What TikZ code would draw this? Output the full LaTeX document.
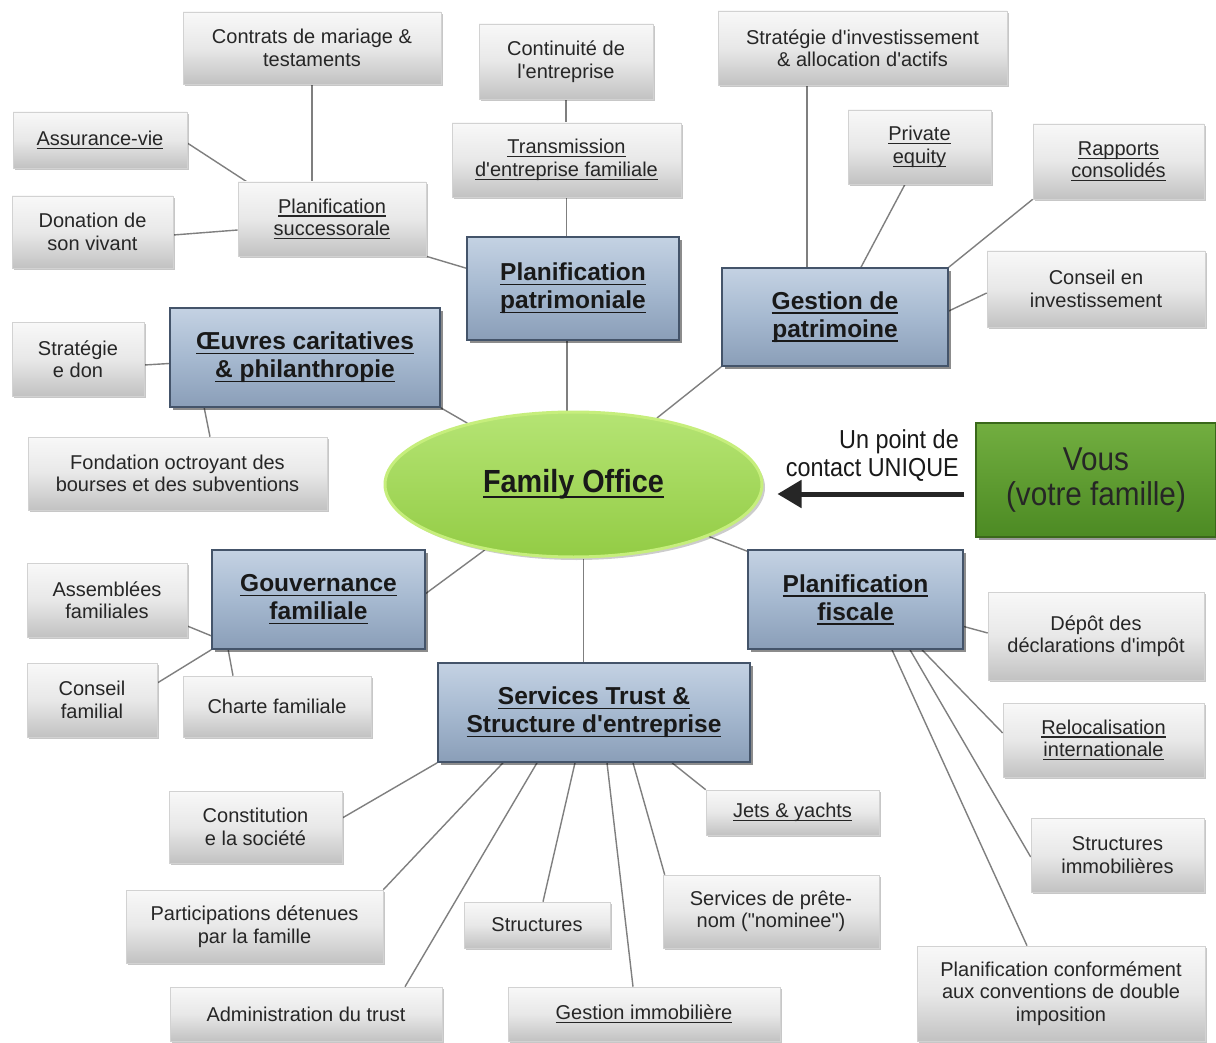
\documentclass[tikz,border=0pt]{standalone}
\usepackage{fontspec}
\setmainfont{Liberation Sans}
\newfontfamily\narrowsans[FakeStretch=0.9]{Liberation Sans}
\newcommand{\ulx}[1]{\leavevmode\setbox0\hbox{#1}\rlap{\vrule height -0.11em depth 0.175em width \wd0}\box0}
\newcommand{\aq}{\textquotesingle}
\usetikzlibrary{shapes.geometric,shadows,arrows.meta}
\pgfdeclarelayer{background}
\pgfsetlayers{background,main}
\definecolor{leaftop}{HTML}{F8F8F8}
\definecolor{leafmid}{HTML}{E8E8E8}
\definecolor{leafbot}{HTML}{C2C2C2}
\definecolor{leafborder}{HTML}{D2D2D2}
\definecolor{leaftext}{HTML}{262626}
\definecolor{maintop}{HTML}{C4D2E3}
\definecolor{mainmid}{HTML}{A6B9D0}
\definecolor{mainbot}{HTML}{8A9EB8}
\definecolor{mainborder}{HTML}{44546A}
\definecolor{linecol}{HTML}{7F7F7F}
\definecolor{fotop}{HTML}{B5E474}
\definecolor{fobot}{HTML}{93CC45}
\definecolor{foborder}{HTML}{C6EE7C}
\definecolor{voustop}{HTML}{72AE40}
\definecolor{vousbot}{HTML}{4C8A23}
\definecolor{vousborder}{HTML}{3A681A}
\newcommand{\lfnt}{\fontsize{20}{22.5}\selectfont}
\newcommand{\mfnt}{\fontsize{24.5}{28}\selectfont\bfseries}
\newcommand{\fofnt}{\narrowsans\fontsize{32}{34}\selectfont\bfseries}
\newcommand{\contactfnt}{\narrowsans\fontsize{26}{28}\selectfont}
\newcommand{\vousfnt}{\narrowsans\fontsize{33}{35}\selectfont}
\tikzset{
  leaf/.style={rectangle, draw=leafborder, line width=0.6pt,
    top color=leaftop, bottom color=leafbot, middle color=leafmid,
    drop shadow={shadow xshift=2pt, shadow yshift=-2pt, opacity=0.22, fill=black},
    font=\lfnt, text=leaftext, align=center, inner sep=0pt},
  mainbox/.style={rectangle, draw=mainborder, line width=1.6pt,
    top color=maintop, bottom color=mainbot, middle color=mainmid,
    drop shadow={shadow xshift=3pt, shadow yshift=-3pt, opacity=0.45, fill=black},
    font=\mfnt, text=black!90, align=center, inner sep=0pt},
  conn/.style={draw=linecol, line width=1.4pt},
  sz/.style n args={2}{minimum width=#1pt, minimum height=#2pt}
}
\begin{document}
\begin{tikzpicture}[x=1pt,y=-1pt]
\useasboundingbox (0,0) rectangle (1216,1043);

% ---------- centre ----------
\node[ellipse, draw=foborder, line width=3pt, top color=fotop, bottom color=fobot,
  drop shadow={shadow xshift=3pt, shadow yshift=-3pt, opacity=0.2, fill=black},
  minimum width=377pt, minimum height=145pt, inner sep=0pt, font=\fofnt, text=black!90]
  (fo) at (573.5,484.5) {\ulx{Family Office}};
\node[rectangle, draw=vousborder, line width=1.2pt, top color=voustop, bottom color=vousbot,
  drop shadow={shadow xshift=3pt, shadow yshift=-3pt, opacity=0.4, fill=black},
  minimum width=240pt, minimum height=114pt, inner sep=0pt, font=\vousfnt,
  text=black!85, align=center] (vous) at (1096,480) {Vous\\(votre famille)};
\node[anchor=east, align=right, font=\contactfnt, text=black!90, inner sep=0pt]
  (contact) at (959,456) {Un point de\\contact UNIQUE};
\coordinate (arrowy) at (0,494);
\draw[line width=5pt, draw=black!85, -{Triangle[length=24pt,width=27pt]},
  shorten <=11pt, shorten >=14pt] (vous.west |- arrowy) -- (fo.east |- arrowy);

% ---------- main boxes ----------
\node[mainbox, sz={212}{103}] (patrim) at (573,288.5) {\ulx{Planification}\\\ulx{patrimoniale}};
\node[mainbox, sz={226}{98}] (gestion) at (835,317) {\ulx{Gestion de}\\\ulx{patrimoine}};
\node[mainbox, sz={270}{99}] (oeuvres) at (305,357.5) {\ulx{Œuvres caritatives}\\\ulx{\& philanthropie}};
\node[mainbox, sz={213}{99}] (gouv) at (318.5,599.5) {\ulx{Gouvernance}\\\ulx{familiale}};
\node[mainbox, sz={215}{99}] (fiscale) at (855.5,599.5) {\ulx{Planification}\\\ulx{fiscale}};
\node[mainbox, sz={312}{99}] (trust) at (594,712.5) {\ulx{Services Trust \&}\\\ulx{Structure d\aq entreprise}};

% ---------- leaves ----------
\node[leaf, sz={258}{72}] (contrats) at (312,48) {Contrats de mariage \&\\testaments};
\node[leaf, sz={174}{56}] (assur) at (100,140) {\ulx{Assurance-vie}};
\node[leaf, sz={161}{72}] (donation) at (92.5,232) {Donation de\\son vivant};
\node[leaf, sz={188}{74}] (succ) at (332,219) {\ulx{Planification}\\\ulx{successorale}};
\node[leaf, sz={174}{75}] (contin) at (566,61.5) {Continuité de\\l\aq entreprise};
\node[leaf, sz={229}{74}] (transm) at (566.5,160) {\ulx{Transmission}\\\ulx{d\aq entreprise familiale}};
\node[leaf, sz={289}{74}] (strat) at (862.5,48) {Stratégie d\aq investissement\\\& allocation d\aq actifs};
\node[leaf, sz={143}{74}] (private) at (919.5,147) {\ulx{Private}\\\ulx{equity}};
\node[leaf, sz={171}{75}] (rapports) at (1118.5,161.5) {\ulx{Rapports}\\\ulx{consolidés}};
\node[leaf, sz={218}{76}] (conseilinv) at (1096,289) {Conseil en\\investissement};
\node[leaf, sz={132}{74}] (stratdon) at (78,359) {Stratégie\\e don};
\node[leaf, sz={299}{73}] (fondation) at (177.5,473.5) {Fondation octroyant des\\bourses et des subventions};
\node[leaf, sz={160}{74}] (assemb) at (107,600) {Assemblées\\familiales};
\node[leaf, sz={130}{74}] (conseilfam) at (92,700) {Conseil\\familial};
\node[leaf, sz={188}{61}] (charte) at (277,706.5) {Charte familiale};
\node[leaf, sz={173}{72}] (constit) at (255.5,827) {Constitution\\e la société};
\node[leaf, sz={257}{73}] (particip) at (254.5,926.5) {Participations détenues\\par la famille};
\node[leaf, sz={272}{54}] (admin) at (306,1014) {Administration du trust};
\node[leaf, sz={173}{45}] (jets) at (792.5,812.5) {\ulx{Jets \& yachts}};
\node[leaf, sz={146}{46}] (structures) at (537,925) {Structures};
\node[leaf, sz={216}{73}] (pretenom) at (771,911.5) {Services de prête-\\nom (\textquotedbl nominee\textquotedbl)};
\node[leaf, sz={272}{54}] (gestimmo) at (644,1014) {\ulx{Gestion immobilière}};
\node[leaf, sz={216}{88}] (depot) at (1096,636) {Dépôt des\\déclarations d\aq impôt};
\node[leaf, sz={201}{74}] (reloc) at (1103.5,740) {\ulx{Relocalisation}\\\ulx{internationale}};
\node[leaf, sz={173}{74}] (structimmo) at (1117.5,855) {Structures\\immobilières};
\node[leaf, sz={288}{95}] (conforme) at (1061,993.5) {Planification conformément\\aux conventions de double\\imposition};

% ---------- background and connectors ----------
\begin{pgfonlayer}{background}
\fill[white] (0,0) rectangle (1216,1043);
\draw[conn] (contrats.south) -- (contrats.south |- succ.north);
\draw[conn] ([yshift=-3pt]assur.east) -- ([xshift=9pt]succ.north west);
\draw[conn] ([yshift=-3pt]donation.east) -- ([yshift=-11pt]succ.west);
\draw[conn] (succ.south east) -- ([yshift=-32pt]patrim.north west);
\draw[conn] (contin.south) -- (contin.south |- transm.north);
\draw[conn] (transm.south) -- (transm.south |- patrim.north);
\draw[conn] ([xshift=-6pt]patrim.south) -- ([xshift=-6pt]patrim.south |- fo.north);
\draw[conn] ([xshift=-55.5pt]strat.south) -- ([xshift=-55.5pt]strat.south |- gestion.north);
\draw[conn] ([xshift=-14.5pt]private.south) -- ([xshift=26pt]gestion.north);
\draw[conn] (rapports.south west) -- (gestion.north east);
\draw[conn] ([yshift=-4pt]conseilinv.west) -- ([yshift=6pt]gestion.east);
\draw[conn] (gestion.south west) -- (fo);
\draw[conn] ([yshift=-6pt]stratdon.east) -- ([yshift=-6pt]oeuvres.west);
\draw[conn] ([xshift=35pt]oeuvres.south west) -- ([xshift=32.5pt]fondation.north);
\draw[conn] (oeuvres.south east) -- (fo);
\draw[conn] ([yshift=-26pt]assemb.east) -- ([yshift=14pt]gouv.south west);
\draw[conn] ([yshift=17pt]conseilfam.east) -- (gouv.south west);
\draw[conn] ([xshift=-44pt]charte.north) -- ([xshift=17pt]gouv.south west);
\draw[conn] ([yshift=6pt]gouv.east) -- (fo);
\draw[conn] ([xshift=10pt]fo.south) -- ([xshift=-10.5pt]trust.north);
\draw[conn] ([yshift=-2pt]fiscale.north west) -- (fo);
\draw[conn] (trust.south west) -- ([yshift=9pt]constit.east);
\draw[conn] ([xshift=-91pt]trust.south) -- (particip.north east);
\draw[conn] ([xshift=-57pt]trust.south) -- ([xshift=99pt]admin.north);
\draw[conn] ([xshift=-19pt]trust.south) -- ([xshift=6pt]structures.north);
\draw[conn] ([xshift=13pt]trust.south) -- ([xshift=-11pt]gestimmo.north);
\draw[conn] ([xshift=39pt]trust.south) -- ([xshift=2pt]pretenom.north west);
\draw[conn] ([xshift=78pt]trust.south) -- (jets.north west);
\draw[conn] ([yshift=-27pt]fiscale.east) -- ([yshift=3pt]depot.west);
\draw[conn] ([xshift=66.5pt]fiscale.south) -- ([yshift=7pt]reloc.west);
\draw[conn] ([xshift=54.5pt]fiscale.south) -- ([yshift=-2pt]structimmo.west);
\draw[conn] ([xshift=36.5pt]fiscale.south) -- ([xshift=-34pt]conforme.north);
\end{pgfonlayer}
\end{tikzpicture}
\end{document}
